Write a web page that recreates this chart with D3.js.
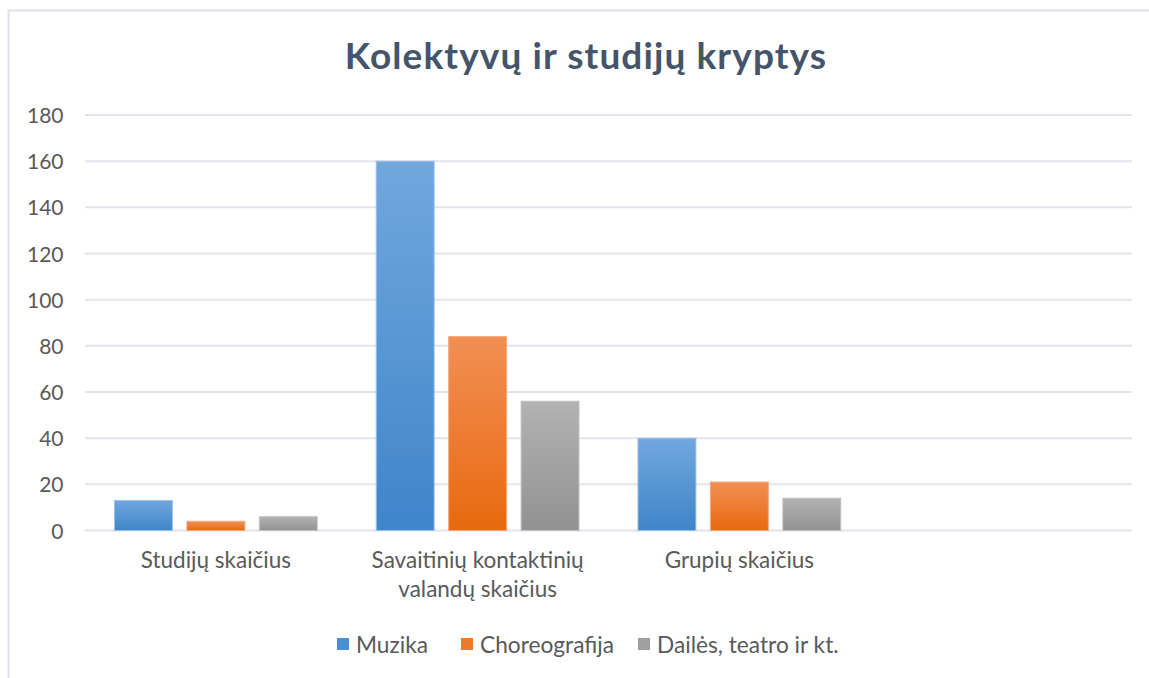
<!DOCTYPE html>
<html>
<head>
<meta charset="utf-8">
<script src="https://cdn.jsdelivr.net/npm/d3@7"></script>
<style>
  html, body { margin: 0; padding: 0; background: #fff; }
  svg { display: block; }
  text { font-family: Lato, "Open Sans", sans-serif; }
</style>
</head>
<body>
<svg id="chart" width="1149" height="678"></svg>
<script>
const categories = [["Studijų skaičius"], ["Savaitinių kontaktinių", "valandų skaičius"], ["Grupių skaičius"], [""]];
const series = ["Muzika", "Choreografija", "Dailės, teatro ir kt."];
const muzika = [13, 160, 40];
const choreografija = [4, 84, 21];
const dailes = [6, 56, 14];
const yTicks = [0, 20, 40, 60, 80, 100, 120, 140, 160, 180];
const title = "Kolektyvų ir studijų kryptys";

(function () {
const values = [muzika, choreografija, dailes];
const colors = [
  { top: "#72a7dd", bottom: "#3f85ca", stroke: "#9cc2e8", legend: "#4a8fd2" },
  { top: "#f28f55", bottom: "#e8690f", stroke: "#f5a97a", legend: "#ee7a2c" },
  { top: "#b2b2b2", bottom: "#929292", stroke: "#c4c4c4", legend: "#a0a0a0" }
];

const svg = d3.select("#chart");
const W = 1149, H = 678;
const pLeft = 85, pRight = 1132, pTop = 115, pBottom = 530.5;

svg.append("path")
  .attr("d", `M8.5,${H + 5} L8.5,10.5 L${W + 5},10.5`)
  .attr("fill", "none").attr("stroke", "#dde1e8").attr("stroke-width", 2);

const defs = svg.append("defs");
colors.forEach((c, i) => {
  const g = defs.append("linearGradient").attr("id", "g" + i)
    .attr("x1", 0).attr("y1", 0).attr("x2", 0).attr("y2", 1);
  g.append("stop").attr("offset", "0%").attr("stop-color", c.top);
  g.append("stop").attr("offset", "100%").attr("stop-color", c.bottom);
});

const x = d3.scaleBand().domain(d3.range(categories.length)).range([pLeft, pRight]).padding(0);
const y = d3.scaleLinear().domain([0, 180]).range([pBottom, pTop]);

svg.append("g").selectAll("line").data(yTicks).join("line")
  .attr("x1", pLeft).attr("x2", pRight)
  .attr("y1", d => y(d)).attr("y2", d => y(d))
  .attr("stroke", "#e1e4ea").attr("stroke-width", 2);

const yAxis = d3.axisLeft(y).tickValues(yTicks).tickSize(0).tickPadding(0);
const yg = svg.append("g").attr("transform", `translate(63.5,0)`).call(yAxis);
yg.select(".domain").remove();
yg.selectAll("text").attr("font-size", 21).attr("fill", "#595959")
  .attr("font-family", "Lato, sans-serif").attr("dy", "0.36em");

const bw = x.bandwidth() * 58 / 262;
const gap = x.bandwidth() * 14.5 / 262;
const groupW = 3 * bw + 2 * gap;
series.forEach((s, si) => {
  svg.append("g").selectAll("rect").data(values[si]).join("rect")
    .attr("x", (d, i) => x(i) + (x.bandwidth() - groupW) / 2 + si * (bw + gap))
    .attr("y", d => y(d))
    .attr("width", bw)
    .attr("height", d => y(0) - y(d))
    .attr("fill", `url(#g${si})`)
    .attr("stroke", colors[si].stroke).attr("stroke-width", 1);
});

const xl = svg.append("g");
categories.forEach((lines, i) => {
  const cx = x(i) + x.bandwidth() / 2;
  const t = xl.append("text")
    .attr("x", cx).attr("y", 568)
    .attr("text-anchor", "middle")
    .attr("font-size", 22.5).attr("fill", "#595959");
  lines.forEach((l, li) => {
    t.append("tspan").attr("x", cx).attr("dy", li === 0 ? 0 : 29).text(l);
  });
});

svg.append("text").attr("x", 586).attr("y", 69).attr("text-anchor", "middle")
  .attr("font-size", 37).attr("letter-spacing", 1.1).attr("font-weight", "bold")
  .attr("fill", "#44546a").text(title);

const legendX = [337, 461, 638];
const lg = svg.append("g");
series.forEach((s, i) => {
  lg.append("rect").attr("x", legendX[i]).attr("y", 638).attr("width", 12).attr("height", 12)
    .attr("fill", colors[i].legend);
  lg.append("text").attr("x", legendX[i] + 19).attr("y", 652.5)
    .attr("font-size", 22.7).attr("fill", "#595959").text(s);
});
})();
</script>
</body>
</html>
